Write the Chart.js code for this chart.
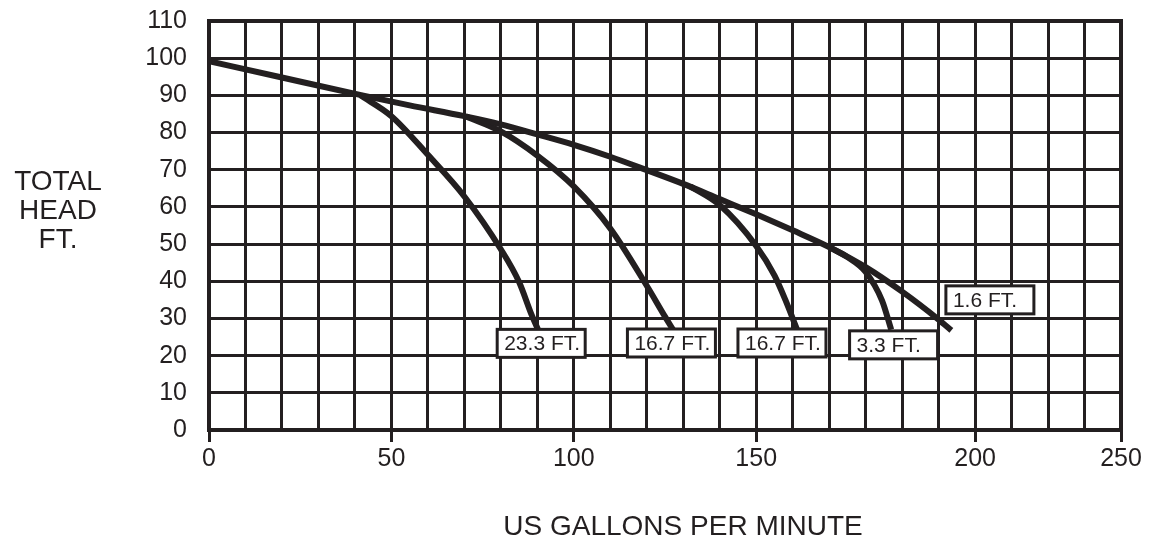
<!DOCTYPE html>
<html>
<head>
<meta charset="utf-8">
<script src="https://cdn.jsdelivr.net/npm/chart.js@4.4.1/dist/chart.umd.min.js"></script>
<style>
  html, body { margin: 0; padding: 0; background: #fff; }
  #wrap { width: 1149px; height: 541px; position: relative; }
</style>
</head>
<body>
<div id="wrap"><canvas id="pumpChart"></canvas></div>
<script>
const INK = '#231f20';
const FONT = '"Liberation Sans", Arial, sans-serif';

// axis ticks (the reference prints "200" on the 210 grid line)
const gpmTicks      = [0, 50, 100, 150, 210, 250];
const gpmTickLabels = ['0', '50', '100', '150', '200', '250'];
const headTicks     = [0, 10, 20, 30, 40, 50, 60, 70, 80, 90, 100, 110];

// curves (gpm / ft head)
const gpm16  = [0, 20, 42, 55, 70, 80, 90, 100, 110, 120, 130, 140, 150, 160, 170, 180, 190, 200, 203.5];
const head16 = [99.2, 94.8, 90, 87.3, 84.4, 82.2, 79.5, 76.7, 73.5, 69.9, 66.2, 62.1, 58, 53.7, 49.2, 43.8, 37.2, 29.7, 26.8];

const gpm233  = [41.5, 50, 60, 70, 80, 85, 88.5, 90.3];
const head233 = [90, 84.4, 74, 62.8, 48.6, 39.8, 30.8, 26.8];

const gpm167a  = [70.5, 80, 90, 100, 110, 120, 125, 127.3];
const head167a = [84.3, 80.3, 73.8, 65.5, 54.2, 38.8, 30.5, 26.8];

const gpm167b  = [132, 140, 150, 155, 158, 161.2];
const head167b = [65.5, 60.5, 49.5, 41.6, 35, 27];

const gpm33  = [170, 175, 180, 184.5, 187];
const head33 = [49.2, 46.5, 42.5, 34.8, 27];

// curve labels: left edge (gpm) and middle (ft) of each box
const labelText = ['23.3 FT.', '16.7 FT.', '16.7 FT.', '3.3 FT.', '1.6 FT.'];
const labelGpm  = [79, 114.7, 145, 175.6, 202];
const labelHead = [23.3, 23.4, 23.4, 22.9, 35];

const pts = (xs, ys) => xs.map((x, i) => ({ x, y: ys[i] }));

function curve(xs, ys) {
    return {
        data: pts(xs, ys),
        borderColor: INK,
        borderWidth: 6,
        pointRadius: 0,
        cubicInterpolationMode: 'monotone',
        fill: false,
    };
}

const decorations = {
    id: 'decorations',
    afterDatasetsDraw(chart) {
        const { ctx, chartArea, scales: { x, y } } = chart;
        ctx.save();
        ctx.font = '21px ' + FONT;
        ctx.textBaseline = 'middle';
        ctx.textAlign = 'left';
        labelText.forEach((t, i) => {
            const left = x.getPixelForValue(labelGpm[i]);
            const mid = y.getPixelForValue(labelHead[i]);
            ctx.fillStyle = '#fff';
            ctx.fillRect(left, mid - 14, 88, 28);
            ctx.lineWidth = 3;
            ctx.strokeStyle = INK;
            ctx.strokeRect(left, mid - 14, 88, 28);
            ctx.fillStyle = INK;
            ctx.fillText(t, left + 7, mid + 1);
        });

        // frame
        ctx.lineWidth = 4;
        ctx.strokeStyle = INK;
        ctx.strokeRect(chartArea.left, chartArea.top, chartArea.right - chartArea.left, chartArea.bottom - chartArea.top);

        // axis titles
        ctx.fillStyle = INK;
        ctx.textAlign = 'center';
        ctx.font = '28px ' + FONT;
        ['TOTAL', 'HEAD', 'FT.'].forEach((line, i) => ctx.fillText(line, 58, 182 + i * 29));
        ctx.fillText('US GALLONS PER MINUTE', (chartArea.left + chartArea.right) / 2 + 18, 527);
        ctx.restore();
    },
};

new Chart(document.getElementById('pumpChart'), {
    type: 'line',
    data: {
        datasets: [
            curve(gpm16, head16),
            curve(gpm233, head233),
            curve(gpm167a, head167a),
            curve(gpm167b, head167b),
            curve(gpm33, head33),
        ],
    },
    options: {
        responsive: true,
        maintainAspectRatio: false,
        animation: false,
        events: [],
        layout: { padding: { top: 21, right: 28, bottom: 0, left: 0 } },
        plugins: { legend: { display: false }, tooltip: { enabled: false } },
        scales: {
            x: {
                type: 'linear',
                min: 0,
                max: 250,
                afterBuildTicks: (s) => { s.ticks = []; for (let v = 0; v <= 250; v += 10) s.ticks.push({ value: v }); },
                afterFit: (s) => { s.height = 111; s.paddingLeft = 0; s.paddingRight = 0; },
                ticks: {
                    autoSkip: false,
                    maxRotation: 0,
                    padding: 2,
                    color: INK,
                    font: { family: FONT, size: 25 },
                    callback: (v) => {
                        const i = gpmTicks.indexOf(v);
                        return i >= 0 ? gpmTickLabels[i] : '';
                    },
                },
                grid: {
                    color: INK,
                    lineWidth: 3,
                    tickLength: 12,
                    tickWidth: 3,
                    tickColor: (c) => (c.tick && gpmTicks.includes(c.tick.value) ? INK : 'rgba(0,0,0,0)'),
                },
                border: { color: INK, width: 4 },
            },
            y: {
                min: 0,
                max: 110,
                afterBuildTicks: (s) => { s.ticks = headTicks.map((v) => ({ value: v })); },
                afterFit: (s) => { s.width = 209; s.paddingTop = 0; s.paddingBottom = 0; },
                ticks: {
                    padding: 22,
                    color: INK,
                    font: { family: FONT, size: 25 },
                },
                grid: { color: INK, lineWidth: 3, drawTicks: false },
                border: { color: INK, width: 4 },
            },
        },
    },
    plugins: [decorations],
});
</script>
</body>
</html>
